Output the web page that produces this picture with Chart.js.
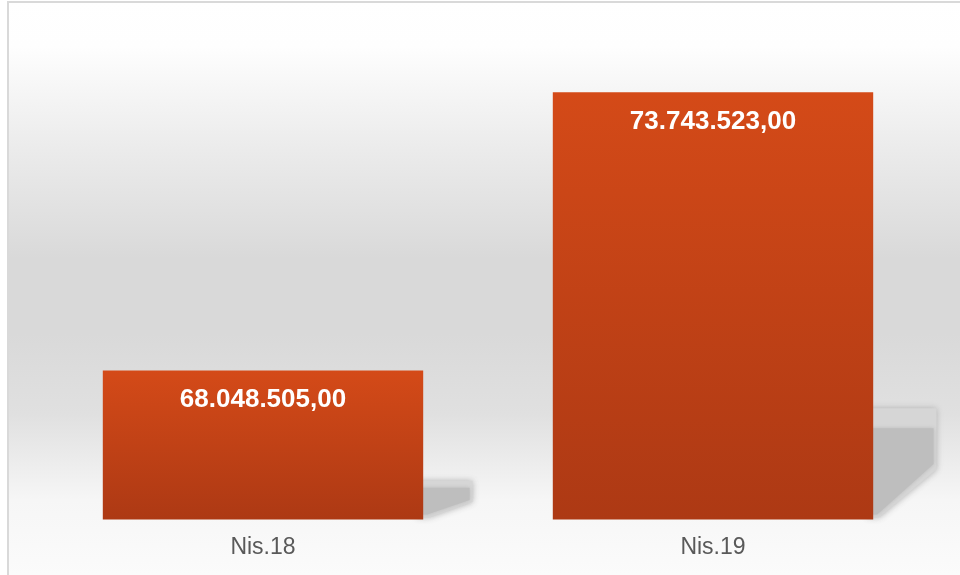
<!DOCTYPE html>
<html>
<head>
<meta charset="utf-8">
<script src="https://cdn.jsdelivr.net/npm/chart.js@4"></script>
<style>
  html, body { margin: 0; padding: 0; background: #fff; }
  #wrap { width: 960px; height: 575px; }
</style>
</head>
<body>
<div id="wrap"><canvas id="barChart" width="960" height="575"></canvas></div>
<script>
const categories = ["Nis.18", "Nis.19"];
const values = [68048505.00, 73743523.00];
const yMin = 65000000;
const yMax = 75000000;

// 68048505 -> "68.048.505,00"
function fmt(v) {
  const parts = v.toFixed(2).split(".");
  return parts[0].replace(/\B(?=(\d{3})+(?!\d))/g, ".") + "," + parts[1];
}

// background gradient, frame, and the soft cast shadow right of each bar
const backdrop = {
  id: "backdrop",
  beforeDraw(chart) {
    const ctx = chart.ctx;
    const g = ctx.createLinearGradient(0, 0, 0, chart.height);
    g.addColorStop(0, "#ffffff");
    g.addColorStop(0.08, "#fefefe");
    g.addColorStop(0.25, "#ececec");
    g.addColorStop(0.45, "#d9d9d9");
    g.addColorStop(0.58, "#d9d9d9");
    g.addColorStop(0.72, "#e0e0e0");
    g.addColorStop(0.87, "#f6f6f6");
    g.addColorStop(1, "#fbfbfb");
    ctx.save();
    ctx.fillStyle = "#ffffff";
    ctx.fillRect(0, 0, chart.width, chart.height);
    ctx.fillStyle = g;
    ctx.fillRect(8, 2, chart.width - 8, chart.height - 2);
    ctx.fillStyle = "#d9d9d9";
    ctx.fillRect(7, 1, 2, chart.height);
    ctx.fillRect(7, 1, chart.width, 2);

    // bars start at 0, far below the cut axis, so use the visible bottom
    const bottom = chart.chartArea.bottom;
    chart.getDatasetMeta(0).data.forEach(el => {
      const right = el.x + el.width / 2;
      const base = Math.min(el.base, bottom);
      const h = base - el.y;
      const sh = h * 0.26;
      const sw = 45 + 0.05 * h;
      ctx.shadowColor = "rgba(170,170,170,0.9)";
      ctx.shadowBlur = 6;
      ctx.fillStyle = "#d6d6d6";
      ctx.beginPath();
      ctx.moveTo(right - 6, base - sh);
      ctx.lineTo(right + sw - 3, base - sh);
      ctx.lineTo(right + sw - 3, base - sh * 0.45);
      ctx.lineTo(right + 6, base - 2);
      ctx.lineTo(right - 6, base - 2);
      ctx.closePath();
      ctx.fill();
      ctx.shadowColor = "rgba(180,180,180,0.8)";
      ctx.shadowBlur = 4;
      ctx.fillStyle = "#bebebe";
      ctx.beginPath();
      ctx.moveTo(right - 6, base - sh * 0.82);
      ctx.lineTo(right + sw - 6, base - sh * 0.82);
      ctx.lineTo(right + sw - 6, base - sh * 0.5);
      ctx.lineTo(right + 4, base - 5);
      ctx.lineTo(right - 6, base - 5);
      ctx.closePath();
      ctx.fill();
    });
    ctx.restore();
  }
};

const valueLabels = {
  id: "valueLabels",
  afterDatasetsDraw(chart) {
    const ctx = chart.ctx;
    ctx.save();
    ctx.fillStyle = "#ffffff";
    ctx.font = "bold 26px 'Liberation Sans', Arial, sans-serif";
    ctx.textAlign = "center";
    ctx.textBaseline = "middle";
    chart.getDatasetMeta(0).data.forEach((el, i) => {
      ctx.fillText(fmt(values[i]), el.x, el.y + 29);
    });
    ctx.restore();
  }
};

function barFill(c) {
  const chart = c.chart;
  const ys = chart.scales.y;
  if (!ys || c.dataIndex === undefined) return "#c4431a";
  const top = ys.getPixelForValue(values[c.dataIndex]);
  const bottom = ys.getPixelForValue(yMin);
  if (!Number.isFinite(top) || !Number.isFinite(bottom) || top === bottom) return "#c4431a";
  const g = chart.ctx.createLinearGradient(0, top, 0, bottom);
  g.addColorStop(0, "#d44a18");
  g.addColorStop(1, "#ad3914");
  return g;
}

new Chart(document.getElementById("barChart"), {
  type: "bar",
  data: {
    labels: categories,
    datasets: [{
      data: values,
      backgroundColor: barFill,
      borderWidth: 0,
      categoryPercentage: 1,
      barPercentage: 0.712
    }]
  },
  options: {
    responsive: false,
    animation: false,
    layout: { padding: { left: 38, right: 22, top: 31, bottom: 8 } },
    plugins: {
      legend: { display: false },
      tooltip: { enabled: false }
    },
    scales: {
      x: {
        grid: { display: false },
        border: { display: false },
        ticks: {
          color: "#595959",
          padding: 6,
          font: { family: "'Liberation Sans', Arial, sans-serif", size: 23 }
        }
      },
      y: {
        display: false,
        min: yMin,
        max: yMax
      }
    }
  },
  plugins: [backdrop, valueLabels]
});
</script>
</body>
</html>
